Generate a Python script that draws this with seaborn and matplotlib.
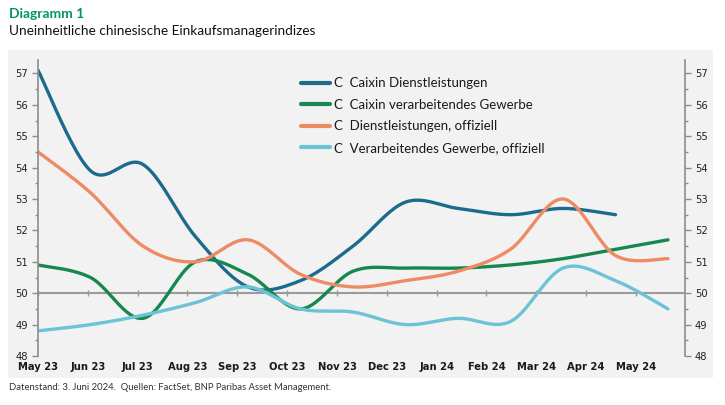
import numpy as np
import pandas as pd
import matplotlib
matplotlib.use("Agg")
import matplotlib.pyplot as plt
from matplotlib.patches import Rectangle
from matplotlib.ticker import MultipleLocator
from matplotlib.lines import Line2D
import seaborn as sns

# ---- data ----
months = ["May 23", "Jun 23", "Jul 23", "Aug 23", "Sep 23", "Oct 23", "Nov 23",
          "Dec 23", "Jan 24", "Feb 24", "Mar 24", "Apr 24", "May 24"]
caixin_services = [57.1, 53.9, 54.1, 51.8, 50.2, 50.4, 51.5, 52.9, 52.7, 52.5, 52.7, 52.5]
caixin_manuf = [50.9, 50.5, 49.2, 51.0, 50.6, 49.5, 50.7, 50.8, 50.8, 50.9, 51.1, 51.4, 51.7]
official_services = [54.5, 53.2, 51.5, 51.0, 51.7, 50.6, 50.2, 50.4, 50.7, 51.4, 53.0, 51.2, 51.1]
official_manuf = [48.8, 49.0, 49.3, 49.7, 50.2, 49.5, 49.4, 49.0, 49.2, 49.1, 50.8, 50.4, 49.5]

series_names = ["Caixin Dienstleistungen", "Caixin verarbeitendes Gewerbe",
                "Dienstleistungen, offiziell", "Verarbeitendes Gewerbe, offiziell"]
series_values = [caixin_services, caixin_manuf, official_services, official_manuf]
colors = ["#1d6b8c", "#16884f", "#ee8b64", "#6cc3d6"]


def smooth(y, n=24):
    """Excel-style smoothed line (Catmull-Rom Bezier) through the monthly points."""
    x = np.arange(len(y), dtype=float)
    p = np.column_stack([x, np.asarray(y, float)])
    ext = np.vstack([p[0], p, p[-1]])
    out = []
    for i in range(len(p) - 1):
        p0, p1, p2, p3 = ext[i], ext[i + 1], ext[i + 2], ext[i + 3]
        c1 = p1 + (p2 - p0) / 6.0
        c2 = p2 - (p3 - p1) / 6.0
        t = np.linspace(0, 1, n, endpoint=(i == len(p) - 2))[:, None]
        seg = ((1 - t) ** 3) * p1 + 3 * ((1 - t) ** 2) * t * c1 + 3 * (1 - t) * t ** 2 * c2 + t ** 3 * p2
        out.append(seg)
    return np.vstack(out)


frames = []
for name, vals in zip(series_names, series_values):
    s = smooth(vals)
    frames.append(pd.DataFrame({"x": s[:, 0], "y": s[:, 1], "series": name}))
df = pd.concat(frames, ignore_index=True)

sns.set_theme(style="white")
plt.rcParams["font.family"] = ["Lato", "DejaVu Sans"]

W, H = 725, 405
fig = plt.figure(figsize=(W / 100, H / 100), dpi=100)
fig.patch.set_facecolor("white")

# gray panel
fig.add_artist(Rectangle((8 / W, 1 - 378 / H), 705 / W, 328 / H, transform=fig.transFigure,
                         facecolor="#f2f2f2", edgecolor="none", zorder=0))

ax = fig.add_axes([38 / W, 1 - 356 / H, 647 / W, 296 / H])
ax.set_facecolor("none")

sns.lineplot(data=df, x="x", y="y", hue="series", palette=dict(zip(series_names, colors)),
             sort=False, estimator=None, units="series", linewidth=2.4, ax=ax, legend=False)
for ln in ax.get_lines():
    ln.set_solid_capstyle("round")

ax.set_xlim(0, 647 / 52.5)
ax.set_ylim(48, 48 + 296 / 31.4)
ax.set_xlabel("")
ax.set_ylabel("")

tick_pos = np.arange(len(months)) * (49.83 / 52.5)

spine_col = "#8c8c8c"
for s in ["top", "right"]:
    ax.spines[s].set_visible(False)
ax.spines["left"].set_color(spine_col)
ax.spines["left"].set_linewidth(1.2)
ax.spines["left"].set_bounds(48, ax.get_ylim()[1])
ax.spines["bottom"].set_position(("data", 50))
ax.spines["bottom"].set_color("#9a9a9a")
ax.spines["bottom"].set_linewidth(1.5)
ax.spines["bottom"].set_zorder(1)

ax.set_xticks(tick_pos)
ax.tick_params(axis="x", which="major", direction="inout", length=5, width=1,
               color="#9a9a9a", labelbottom=False, bottom=True)

ax.yaxis.set_major_locator(MultipleLocator(1))
ax.yaxis.set_minor_locator(MultipleLocator(0.5))
ax.tick_params(axis="y", which="major", direction="out", length=4, width=1, color=spine_col,
               left=True, labelsize=8, labelcolor="#222222", pad=3)
ax.tick_params(axis="y", which="minor", direction="out", length=2.5, width=1, color=spine_col, left=True)
for lab in ax.get_yticklabels():
    lab.set_fontfamily("DejaVu Sans")
    lab.set_fontstretch("condensed")

# bottom tick labels
secx = ax.secondary_xaxis("bottom")
secx.set_xticks(tick_pos)
secx.set_xticklabels(months)
secx.tick_params(axis="x", length=0, pad=4, labelsize=8, labelcolor="#1a1a1a")
secx.spines["bottom"].set_visible(False)
for lab in secx.get_xticklabels():
    lab.set_fontfamily("DejaVu Sans")
    lab.set_fontstretch("condensed")
    lab.set_fontweight("bold")

# right axis
secy = ax.secondary_yaxis("right")
secy.yaxis.set_major_locator(MultipleLocator(1))
secy.yaxis.set_minor_locator(MultipleLocator(0.5))
secy.spines["right"].set_color(spine_col)
secy.spines["right"].set_linewidth(1.2)
secy.tick_params(axis="y", which="major", direction="out", length=4, width=1, color=spine_col,
                 labelsize=8, labelcolor="#222222", pad=3)
secy.tick_params(axis="y", which="minor", direction="out", length=2.5, width=1, color=spine_col)
for lab in secy.get_yticklabels():
    lab.set_fontfamily("DejaVu Sans")
    lab.set_fontstretch("condensed")

# legend
handles = [Line2D([0], [0], color=c, lw=3) for c in colors]
leg = ax.legend(handles, ["C  " + n for n in series_names], loc="upper left",
                bbox_to_anchor=(258 / 647, 1 - 12 / 296), frameon=False, fontsize=9.5,
                handlelength=2.2, handletextpad=0.3, labelspacing=0.72, borderaxespad=0)
for t in leg.get_texts():
    t.set_color("#1a1a1a")

# titles & footer
fig.text(9 / W, 1 - 14 / H, "Diagramm 1", color="#00965e", fontsize=10, fontweight="bold",
         va="center", ha="left")
fig.text(9 / W, 1 - 31 / H, "Uneinheitliche chinesische Einkaufsmanagerindizes", color="#111111",
         fontsize=9.8, va="center", ha="left")
fig.text(9 / W, 1 - 388 / H, "Datenstand: 3. Juni 2024.  Quellen: FactSet, BNP Paribas Asset Management.",
         color="#333333", fontsize=6.8, va="center", ha="left")

fig.savefig("out.png", dpi=100)
